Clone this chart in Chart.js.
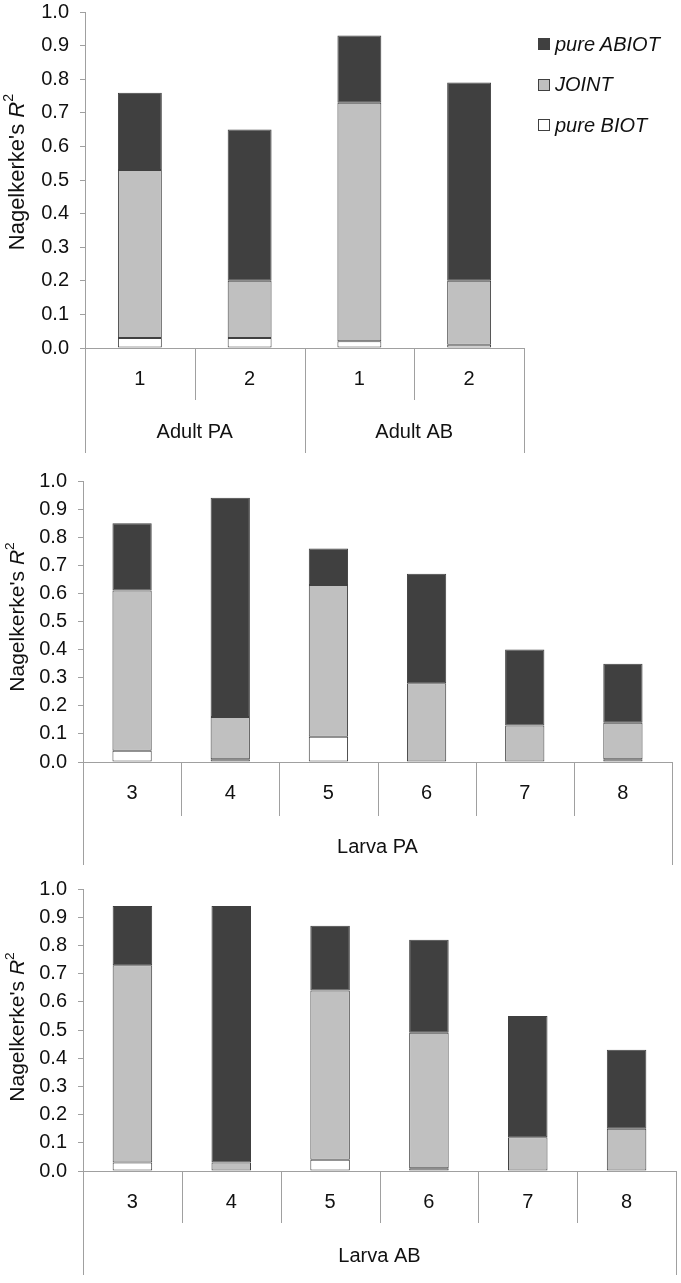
<!DOCTYPE html>
<html>
<head>
<meta charset="utf-8">
<script src="https://cdn.jsdelivr.net/npm/chart.js@4.4.1/dist/chart.umd.min.js"></script>
<style>
  html, body { margin: 0; padding: 0; background: #fff; }
  body { width: 681px; height: 1283px; position: relative; overflow: hidden; font-family: "Liberation Sans", Arial, sans-serif; color: #111; }
  canvas { position: absolute; left: 0; }
  .ytitle { position: absolute; left: 16px; white-space: nowrap; transform: translate(-50%, -50%) rotate(-90deg); font-size: 21px; }
  .ytitle sup { font-size: 0.65em; position: relative; top: -0.15em; }
  .legend { position: absolute; left: 538px; top: 24px; font-size: 20px; font-style: italic; }
  .legend div { height: 40.5px; display: flex; align-items: center; }
  .legend span.box { display: inline-block; width: 10px; height: 10px; border: 1px solid #404040; margin-right: 5px; }
</style>
</head>
<body>

<canvas id="adult" width="681" height="460" style="top:0px"></canvas>
<canvas id="larvaPA" width="681" height="410" style="top:465px"></canvas>
<canvas id="larvaAB" width="681" height="408" style="top:875px"></canvas>

<div class="ytitle" style="top:172px; font-size:22px">Nagelkerke's <i>R</i><sup>2</sup></div>
<div class="ytitle" style="top:617px">Nagelkerke's <i>R</i><sup>2</sup></div>
<div class="ytitle" style="top:1027px">Nagelkerke's <i>R</i><sup>2</sup></div>

<div class="legend">
  <div><span class="box" style="background:#404040"></span>pure ABIOT</div>
  <div><span class="box" style="background:#c0c0c0"></span>JOINT</div>
  <div><span class="box" style="background:#fff"></span>pure BIOT</div>
</div>

<script>
// panel 1: adults
const adultLabels = ['1', '2', '1', '2'];
const adultGroups = ['Adult PA', 'Adult AB'];
const adultGroupSizes = [2, 2];
const adultBiot = [0.03, 0.03, 0.02, 0.01];
const adultJoint = [0.50, 0.17, 0.71, 0.19];
const adultAbiot = [0.23, 0.45, 0.20, 0.59];

// panel 2: larvae PA
const larvaLabels = ['3', '4', '5', '6', '7', '8'];
const larvaPAGroups = ['Larva PA'];
const larvaPABiot = [0.04, 0.01, 0.09, 0, 0, 0.01];
const larvaPAJoint = [0.57, 0.15, 0.54, 0.28, 0.13, 0.13];
const larvaPAAbiot = [0.24, 0.78, 0.13, 0.39, 0.27, 0.21];

// panel 3: larvae AB
const larvaABGroups = ['Larva AB'];
const larvaABBiot = [0.03, 0, 0.04, 0.01, 0, 0];
const larvaABJoint = [0.70, 0.03, 0.60, 0.48, 0.12, 0.15];
const larvaABAbiot = [0.21, 0.91, 0.23, 0.33, 0.43, 0.28];

const yTicks = [0, 0.1, 0.2, 0.3, 0.4, 0.5, 0.6, 0.7, 0.8, 0.9, 1.0];

const AXIS = '#a0a0a0';
const EDGE = '#404040';

Chart.defaults.font.family = '"Liberation Sans", Arial, sans-serif';
Chart.defaults.font.size = 20;
Chart.defaults.color = '#111';

// excel style multi level category axis: dividers + group names under the ticks
const groupAxis = {
  id: 'groupAxis',
  afterDraw(chart, args, opts) {
    const { ctx, chartArea } = chart;
    const x = chart.scales.x;
    const n = chart.data.labels.length;
    const bottom = chartArea.bottom;
    const edge = i => {
      if (i === 0) return chartArea.left;
      if (i === n) return chartArea.right;
      return (x.getPixelForValue(i - 1) + x.getPixelForValue(i)) / 2;
    };
    const groupEdges = [0];
    opts.sizes.forEach(s => groupEdges.push(groupEdges[groupEdges.length - 1] + s));

    ctx.save();
    ctx.strokeStyle = AXIS;
    ctx.lineWidth = 1;
    for (let i = 0; i <= n; i++) {
      const px = Math.round(edge(i)) + 0.5;
      const len = groupEdges.includes(i) ? opts.outer : opts.inner;
      ctx.beginPath();
      ctx.moveTo(px, bottom);
      ctx.lineTo(px, bottom + len);
      ctx.stroke();
    }
    ctx.fillStyle = '#111';
    ctx.font = '20px "Liberation Sans", Arial, sans-serif';
    ctx.textAlign = 'center';
    ctx.textBaseline = 'middle';
    opts.names.forEach((name, g) => {
      const cx = (edge(groupEdges[g]) + edge(groupEdges[g + 1])) / 2;
      ctx.fillText(name, cx, bottom + opts.labelOffset);
    });
    ctx.restore();
  }
};

function makePanel(id, labels, biot, joint, abiot, groups, sizes, box) {
  const ctx = document.getElementById(id).getContext('2d');
  return new Chart(ctx, {
    type: 'bar',
    data: {
      labels: labels,
      datasets: [
        { label: 'pure BIOT', data: biot, backgroundColor: '#ffffff' },
        { label: 'JOINT', data: joint, backgroundColor: '#c0c0c0' },
        { label: 'pure ABIOT', data: abiot, backgroundColor: '#404040' }
      ].map(d => Object.assign(d, {
        borderColor: EDGE,
        borderWidth: 1,
        borderSkipped: false,
        categoryPercentage: 0.4,
        barPercentage: 1
      }))
    },
    options: {
      responsive: false,
      animation: false,
      devicePixelRatio: 1,
      layout: {
        padding: { top: box.top, right: box.right, bottom: 0, left: 0 }
      },
      plugins: {
        legend: { display: false },
        tooltip: { enabled: false },
        groupAxis: { names: groups, sizes: sizes, inner: box.inner, outer: box.outer, labelOffset: box.labelOffset }
      },
      scales: {
        x: {
          stacked: true,
          afterFit: s => { s.height = box.xh; },
          grid: { display: true, drawOnChartArea: false, drawTicks: false },
          border: { color: AXIS },
          ticks: { padding: box.tickPad, maxRotation: 0, autoSkip: false }
        },
        y: {
          stacked: true,
          min: 0,
          max: 1,
          afterFit: s => { s.width = box.yw; s.paddingTop = 0; s.paddingBottom = 0; },
          afterBuildTicks: s => { s.ticks = yTicks.map(v => ({ value: v })); },
          grid: { drawOnChartArea: false, drawTicks: true, tickLength: 5, color: AXIS },
          border: { color: AXIS },
          ticks: { padding: 11, callback: v => Number(v).toFixed(1) }
        }
      }
    },
    plugins: [groupAxis]
  });
}

makePanel('adult', adultLabels, adultBiot, adultJoint, adultAbiot, adultGroups, adultGroupSizes,
  { top: 12, right: 157, xh: 112, yw: 85, inner: 52, outer: 105, labelOffset: 84, tickPad: 19 });

makePanel('larvaPA', larvaLabels, larvaPABiot, larvaPAJoint, larvaPAAbiot, larvaPAGroups, [6],
  { top: 16, right: 9, xh: 113, yw: 83, inner: 54, outer: 103, labelOffset: 85, tickPad: 19 });

makePanel('larvaAB', larvaLabels, larvaABBiot, larvaABJoint, larvaABAbiot, larvaABGroups, [6],
  { top: 14, right: 5, xh: 112, yw: 83, inner: 52, outer: 104, labelOffset: 85, tickPad: 19 });
</script>
</body>
</html>
